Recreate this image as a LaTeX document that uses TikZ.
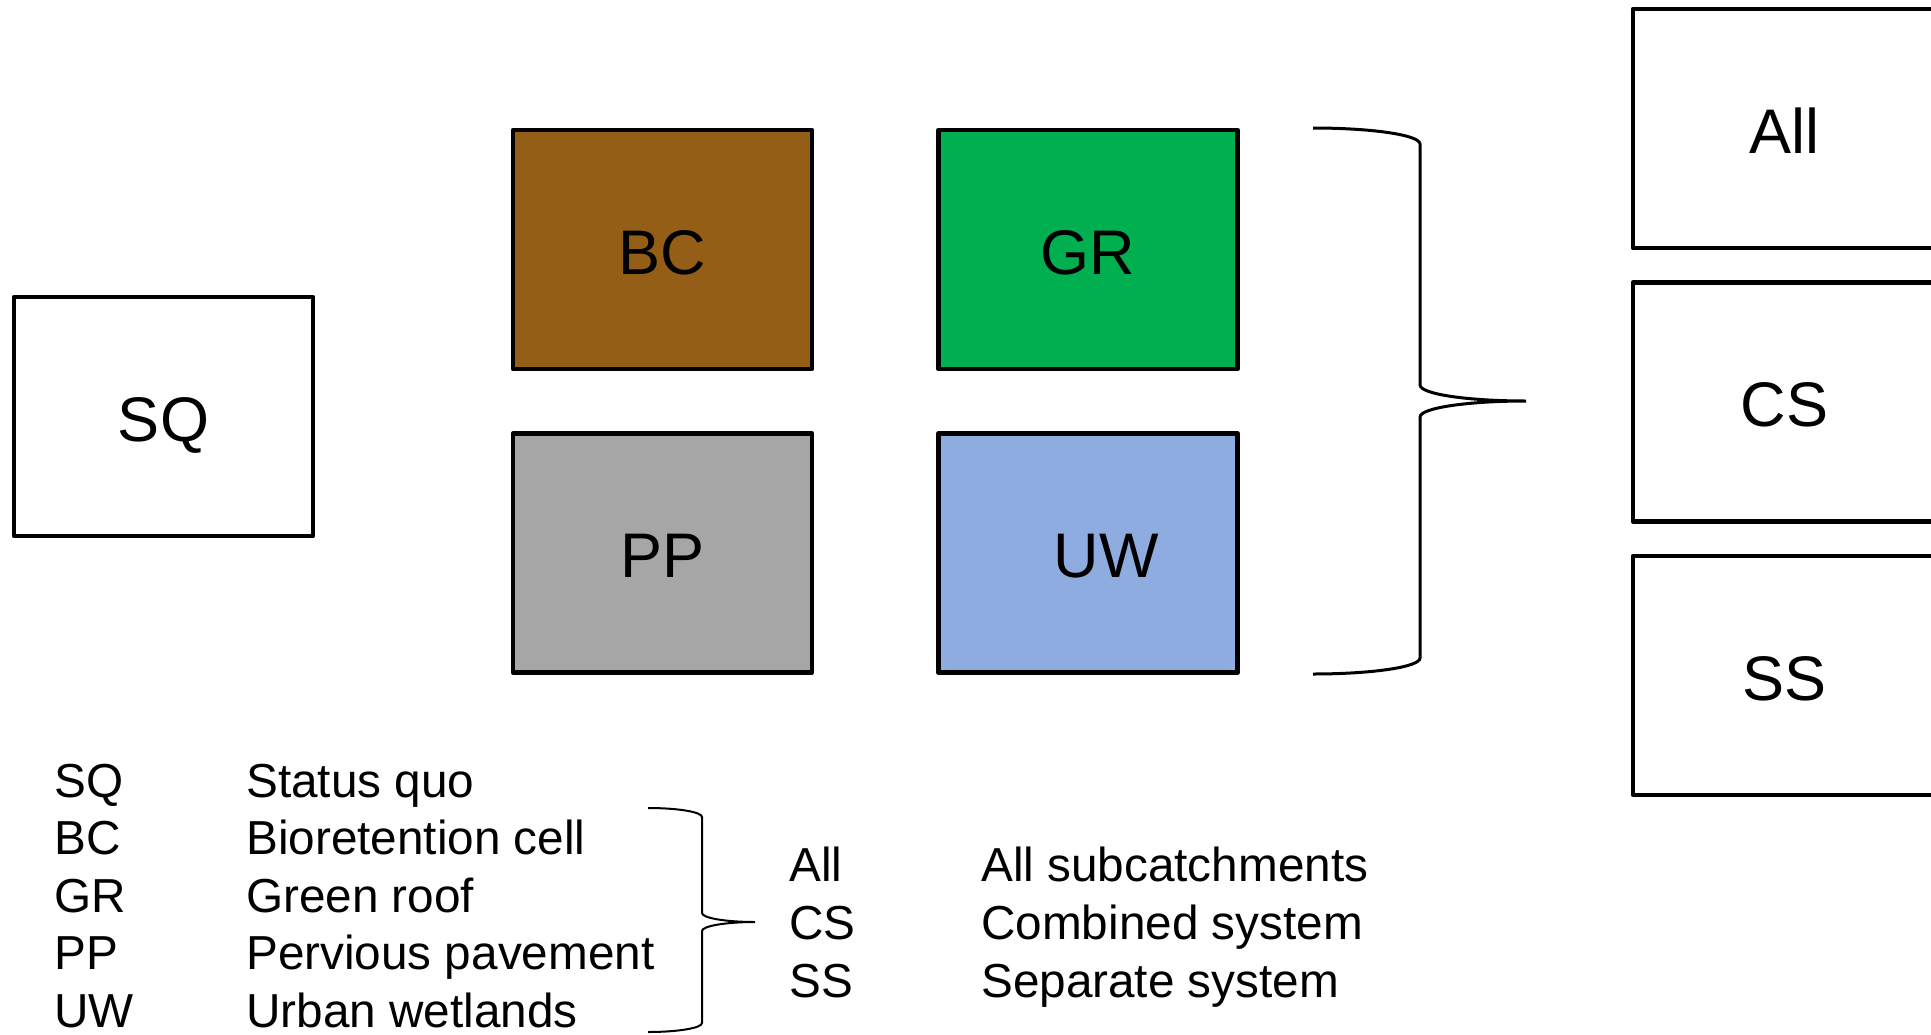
\documentclass[tikz,border=0pt]{standalone}
\usepackage{fontspec}
\setmainfont{Liberation Sans}
\usetikzlibrary{positioning}

\definecolor{bcbrown}{HTML}{945E16}
\definecolor{grgreen}{HTML}{00B050}
\definecolor{ppgray}{HTML}{A6A6A6}
\definecolor{uwblue}{HTML}{8EACE0}

\begin{document}
\begin{tikzpicture}[
        x=1pt, y=-1pt,
        every node/.style = {inner sep=0pt},
        box/.style = {shape=rectangle, draw, line width=4.5pt, line join=round, minimum width=299pt, minimum height=239pt, text height=49pt, text depth=0pt, font=\fontsize{63}{75}\selectfont},
        areabox/.style = {box, minimum width=303pt},
        legend/.style = {anchor=base west, font=\fontsize{47.7}{57}\selectfont},
        curly/.style = {line width=3pt}
    ]
    \useasboundingbox (0,0) rectangle (1931,1034);

    % scenarios
    \node[box] (sq) at (163.5,416.5) {SQ};
    \node[box, fill=bcbrown] (bc) at (662.5,249.5) {BC};
    \node[box, fill=grgreen, right=122pt of bc] (gr) {GR};
    \node[box, fill=ppgray, below=60pt of bc] (pp) {PP};
    \node[box, fill=uwblue, below=60pt of gr] (uw) {\hspace*{36pt}UW};

    % catchment areas
    \node[areabox] (all) at (1784.5,128.5) {All};
    \node[areabox, below=30pt of all] (cs) {CS};
    \node[areabox, below=30pt of cs] (ss) {SS};

    % brace from the measures to the areas
    \draw[curly] (1313,128) .. controls (1372,128) and (1420,135) .. (1420,144)
        -- (1420,385) .. controls (1420,394) and (1467,401) .. (1526,401)
        .. controls (1467,401) and (1420,408) .. (1420,417)
        -- (1420,658) .. controls (1420,667) and (1372,674) .. (1313,674);

    % legend
    \foreach \abbr/\desc [count=\i from 0] in {SQ/Status quo, BC/Bioretention cell, GR/Green roof, PP/Pervious pavement, UW/Urban wetlands} {
        \node[legend] (key\i) at (54,{797+57.5*\i}) {\abbr};
        \node[legend] (desc\i) at (246,{797+57.5*\i}) {\desc};
    }
    \foreach \abbr/\desc [count=\i from 0] in {All/All subcatchments, CS/Combined system, SS/Separate system} {
        \node[legend] (akey\i) at (789,{881+58*\i}) {\abbr};
        \node[legend] (adesc\i) at (981,{881+58*\i}) {\desc};
    }

    \draw[line width=2pt] (648,808) .. controls (678,808) and (702,812) .. (702,817)
        -- (702,913) .. controls (702,918) and (726,922) .. (755,922)
        .. controls (726,922) and (702,926) .. (702,931)
        -- (702,1023) .. controls (702,1028) and (678,1032) .. (648,1032);
\end{tikzpicture}
\end{document}
